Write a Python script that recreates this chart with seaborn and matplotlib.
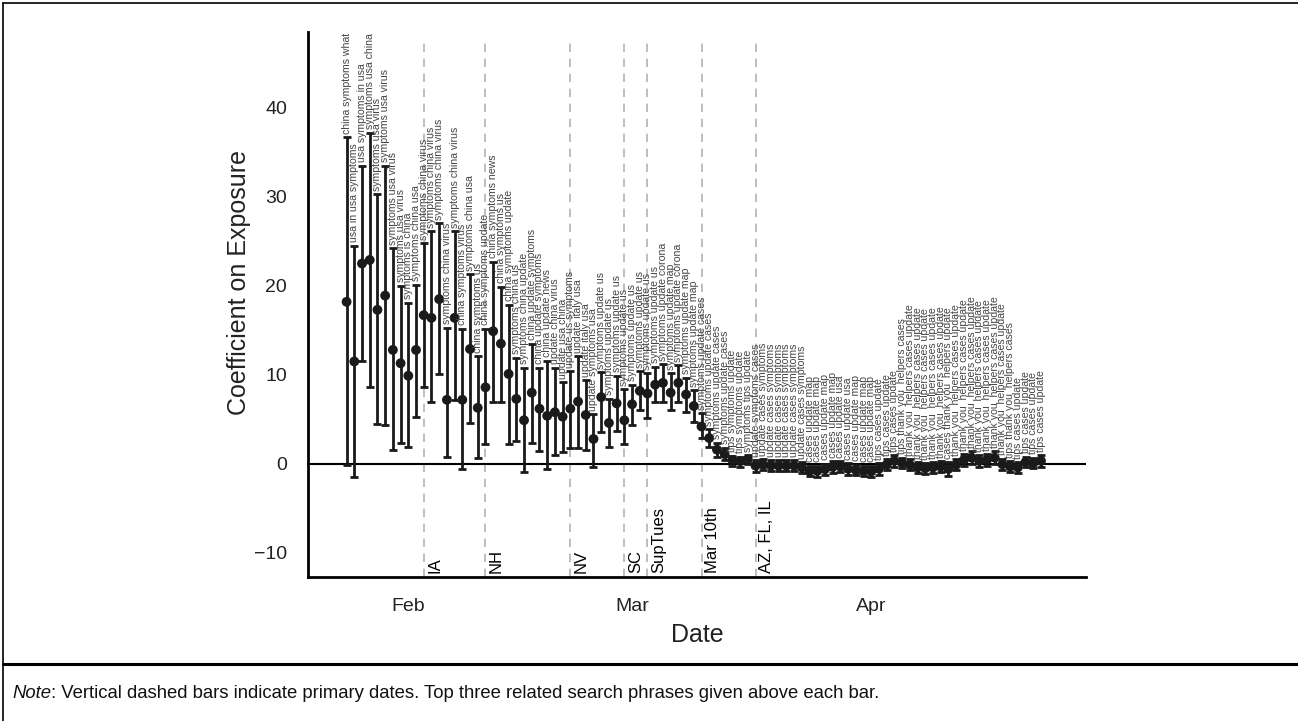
import numpy as np
import pandas as pd
import matplotlib
matplotlib.use("Agg")
import matplotlib.pyplot as plt
import seaborn as sns
from matplotlib.lines import Line2D

# ---------------- data ----------------
start_date = "2020-01-24"

coef = [18.2, 11.5, 22.5, 22.9, 17.3, 18.9, 12.8, 11.3, 9.9, 12.8,
        16.7, 16.4, 18.5, 7.2, 16.4, 7.2, 12.9, 6.3, 8.6, 14.9,
        13.5, 10.1, 7.3, 4.9, 8.0, 6.2, 5.4, 5.8, 5.3, 6.2,
        7.0, 5.5, 2.8, 7.5, 4.6, 6.8, 4.9, 6.7, 8.2, 7.9,
        8.9, 9.1, 8.0, 9.1, 7.8, 6.5, 4.2, 2.9, 1.6, 1.1,
        0.45, 0.3, 0.5, -0.2, -0.1, -0.2, -0.2, -0.2, -0.2, -0.4,
        -0.8, -0.8, -0.6, -0.35, -0.3, -0.55, -0.7, -0.8, -0.85, -0.55,
        -0.1, 0.34, 0.1, -0.1, -0.4, -0.5, -0.4, -0.3, -0.56, -0.1,
        0.45, 0.7, 0.34, 0.45, 0.7, -0.04, -0.3, -0.4, 0.2, 0.08,
        0.34]

ci_low = [-0.1, -1.5, 11.5, 8.6, 4.5, 4.4, 1.6, 2.4, 1.9, 5.3,
          8.6, 6.9, 10.1, 0.8, 7.2, -0.6, 4.6, 0.7, 2.2, 6.9,
          6.9, 2.2, 2.6, -0.9, 2.4, 1.5, -0.6, 1.0, 1.3, 1.8,
          1.8, 1.6, -0.3, 3.6, 1.9, 3.7, 2.2, 4.4, 6.0, 5.2,
          6.9, 7.0, 6.1, 7.0, 5.8, 4.7, 2.9, 1.9, 0.8, 0.4,
          -0.2, -0.3, 0.0, -0.9, -0.7, -0.8, -0.8, -0.8, -0.8, -1.0,
          -1.4, -1.5, -1.2, -1.0, -0.9, -1.2, -1.3, -1.4, -1.5, -1.2,
          -0.7, -0.3, -0.5, -0.7, -1.0, -1.1, -1.0, -0.9, -1.4, -0.7,
          -0.2, 0.0, -0.3, -0.2, 0.0, -0.7, -0.9, -1.0, -0.4, -0.5,
          -0.3]

ci_high = [36.7, 24.5, 33.5, 37.2, 30.3, 33.5, 24.2, 20.0, 18.1, 20.1,
           24.8, 26.1, 27.0, 15.3, 26.1, 15.2, 21.3, 12.1, 15.2, 22.7,
           19.9, 17.9, 11.9, 10.8, 13.5, 10.8, 11.6, 10.8, 9.2, 10.4,
           12.1, 9.4, 5.6, 10.3, 7.3, 9.9, 8.4, 8.9, 10.4, 10.2,
           10.9, 11.2, 10.2, 11.1, 9.7, 8.3, 5.7, 3.9, 2.4, 1.8,
           0.9, 0.8, 1.0, 0.4, 0.5, 0.4, 0.4, 0.4, 0.4, 0.2,
           -0.2, -0.2, 0.0, 0.3, 0.3, 0.1, -0.1, -0.2, -0.2, 0.1,
           0.5, 1.0, 0.7, 0.5, 0.2, 0.1, 0.2, 0.3, 0.2, 0.5,
           1.1, 1.4, 1.0, 1.1, 1.4, 0.6, 0.3, 0.2, 0.8, 0.7,
           1.0]

phrases = (
    ["china symptoms what", "usa in usa symptoms", "usa symptoms in usa",
     "symptoms usa china"]
    + ["symptoms usa virus"] * 4
    + ["symptoms is china", "symptoms china usa"]
    + ["symptoms china virus"] * 5
    + ["china symptoms virus", "symptoms china usa", "china symptoms us",
       "china symptoms update", "china symptoms news", "china symptoms us",
       "china symptoms update", "symptoms china us", "symptoms china update",
       "china update symptoms", "china update symptoms", "china update news",
       "update china virus", "update usa china", "update us symptoms",
       "update italy usa", "update italy usa", "update symptoms usa"]
    + ["symptoms update us"] * 8
    + ["symptoms update corona", "symptoms update map", "symptoms update corona",
       "symptoms update map", "symptoms update map"]
    + ["symptoms update cases"] * 4
    + ["tips symptoms update", "tips symptoms update", "symptoms tips update",
       "update symptoms cases"]
    + ["update cases symptoms"] * 6
    + ["cases update map"] * 4
    + ["cases update usa"] * 2
    + ["cases update map"] * 3
    + ["tips cases update"] * 3
    + ["tips thank you  helpers cases"]
    + ["thank you  helpers cases update"] * 5
    + ["cases thank you  helpers update"]
    + ["thank you  helpers cases update"] * 7
    + ["tips thank you  helpers cases"]
    + ["tips cases update"] * 4
)

primary_dates = ["2020-02-03", "2020-02-11", "2020-02-22", "2020-02-29",
                 "2020-03-03", "2020-03-10", "2020-03-17"]
primary_labels = ["IA", "NH", "NV", "SC", "SupTues", "Mar 10th", "AZ, FL, IL"]

month_ticks = ["2020-02-01", "2020-03-01", "2020-04-01"]
month_labels = ["Feb", "Mar", "Apr"]
y_ticks = [-10, 0, 10, 20, 30, 40]

# ---------------- frame ----------------
dates = pd.date_range(start_date, periods=len(coef), freq="D")
df = pd.DataFrame({"date": dates, "coef": coef, "lo": ci_low, "hi": ci_high,
                   "phrase": phrases})

sns.set_theme(style="white")
plt.rcParams["font.family"] = ["Liberation Sans", "DejaVu Sans"]

W, H = 1298, 721
fig = plt.figure(figsize=(W / 100, H / 100), dpi=100)
ax = fig.add_axes([308 / W, 1 - 577 / H, (1086 - 308) / W, (577 - 32) / H])

ink = "#1a1a1a"

# primary date dashed lines
for d, lab in zip(primary_dates, primary_labels):
    dd = pd.Timestamp(d)
    ax.axvline(dd, ymax=0.99, color="#b3b3b3", lw=1.2, ls=(0, (5, 4)), zorder=1)
    ax.annotate(lab, xy=(dd, -12.7), xytext=(2.5, 3), textcoords="offset points",
                rotation=90, ha="left", va="bottom", fontsize=12, color="black")

ax.axhline(0, color="black", lw=1.5, zorder=2)

ax.errorbar(df["date"], df["coef"],
            yerr=[df["coef"] - df["lo"], df["hi"] - df["coef"]],
            fmt="none", ecolor=ink, elinewidth=2.0, capsize=3.2, capthick=2.0,
            zorder=3)
sns.scatterplot(data=df, x="date", y="coef", color=ink, s=50,
                edgecolor="none", zorder=4, ax=ax, legend=False)

for _, r in df.iterrows():
    ax.annotate(r["phrase"], xy=(r["date"], r["hi"]), xytext=(0, 2.5),
                textcoords="offset points", rotation=90, ha="center",
                va="bottom", fontsize=7.6, color="#444444", zorder=5)

ax.set_xlim(pd.Timestamp("2020-01-19"), pd.Timestamp("2020-04-28 20:00"))
ax.set_ylim(-12.7, 48.5)
ax.set_xticks([pd.Timestamp(t) for t in month_ticks])
ax.set_xticklabels(month_labels)
ax.set_yticks(y_ticks)
ax.set_yticklabels([f"{v}".replace("-", "\u2212") for v in y_ticks])

ax.tick_params(axis="both", which="major", labelsize=14, colors="#999999",
               labelcolor="#222222", length=5, width=1, direction="out")
ax.tick_params(axis="x", pad=10)
ax.tick_params(axis="y", pad=10)

for s in ["top", "right"]:
    ax.spines[s].set_visible(False)
for s in ["left", "bottom"]:
    ax.spines[s].set_color("black")
    ax.spines[s].set_linewidth(2.0)

ax.set_xlabel("Date", fontsize=18, color="#222222", labelpad=6)
ax.set_ylabel("Coefficient on Exposure", fontsize=18, color="#222222")
ax.yaxis.set_label_coords(-0.073, 0.54)
ax.grid(False)

# outer frame and note
fig.add_artist(Line2D([3 / W, 3 / W], [0, 1 - 3 / H], transform=fig.transFigure,
                      color="black", lw=1.2))
fig.add_artist(Line2D([3 / W, 1], [1 - 3 / H, 1 - 3 / H], transform=fig.transFigure,
                      color="black", lw=1.2))
fig.add_artist(Line2D([3 / W, 1], [1 - 664 / H, 1 - 664 / H],
                      transform=fig.transFigure, color="black", lw=2.2))

note = fig.text(12 / W, 1 - 698 / H, "Note", fontsize=13.3, style="italic",
                color="#111111", ha="left", va="baseline")
ax.annotate(": Vertical dashed bars indicate primary dates. Top three related "
            "search phrases given above each bar.",
            xy=(1, 0), xycoords=note, ha="left", va="bottom", fontsize=13.3,
            color="#111111", annotation_clip=False)

fig.savefig("out.png", dpi=100)
